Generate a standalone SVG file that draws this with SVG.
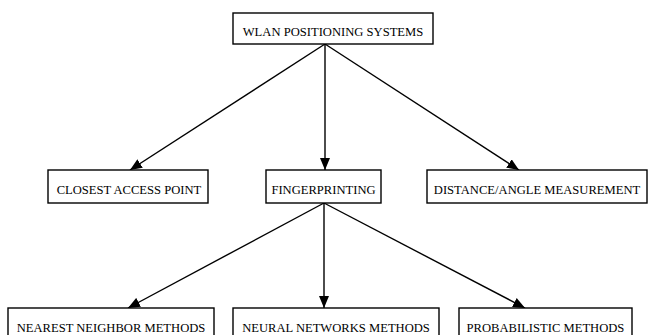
<svg xmlns="http://www.w3.org/2000/svg" width="648" height="335" viewBox="0 0 648 335">
<style>
.box{fill:#fff;stroke:#000;stroke-width:1.4}
.lbl{font-family:"Liberation Serif","Times New Roman",serif;font-size:12.6px;fill:#000;text-anchor:middle}
.edge{stroke:#000;stroke-width:1.4;fill:none;marker-end:url(#ah)}
</style>
<defs>
<marker id="ah" viewBox="0 0 12 10" refX="12" refY="5" markerWidth="12" markerHeight="10" markerUnits="userSpaceOnUse" orient="auto">
<path d="M0,0 L12,5 L0,10 Z" fill="#000"/>
</marker>
</defs>
<rect width="648" height="335" fill="#fff"/>
<g id="connectors">
<line class="edge" x1="325" y1="44" x2="130" y2="170"/>
<line class="edge" x1="325" y1="44" x2="325" y2="170"/>
<line class="edge" x1="325" y1="44" x2="519" y2="170"/>
<line class="edge" x1="324" y1="203" x2="128" y2="308"/>
<line class="edge" x1="324" y1="203" x2="324" y2="308"/>
<line class="edge" x1="324" y1="203" x2="525" y2="308"/>
</g>
<g id="wlan"><rect class="box" x="233" y="13" width="200" height="31"/><text class="lbl" x="333" y="36">WLAN POSITIONING SYSTEMS</text></g>
<g id="closest"><rect class="box" x="48" y="170" width="160" height="33"/><text class="lbl" x="129" y="194">CLOSEST ACCESS POINT</text></g>
<g id="fingerprinting"><rect class="box" x="266" y="170" width="115" height="33"/><text class="lbl" x="323.5" y="194">FINGERPRINTING</text></g>
<g id="distance"><rect class="box" x="427" y="170" width="220" height="33"/><text class="lbl" x="537" y="194">DISTANCE/ANGLE MEASUREMENT</text></g>
<g id="nearest"><rect class="box" x="8" y="308" width="206" height="30"/><text class="lbl" x="111" y="332">NEAREST NEIGHBOR METHODS</text></g>
<g id="neural"><rect class="box" x="233" y="308" width="206" height="30"/><text class="lbl" x="336" y="332">NEURAL NETWORKS METHODS</text></g>
<g id="probabilistic"><rect class="box" x="459" y="308" width="173" height="30"/><text class="lbl" x="545.5" y="332">PROBABILISTIC METHODS</text></g>
</svg>
